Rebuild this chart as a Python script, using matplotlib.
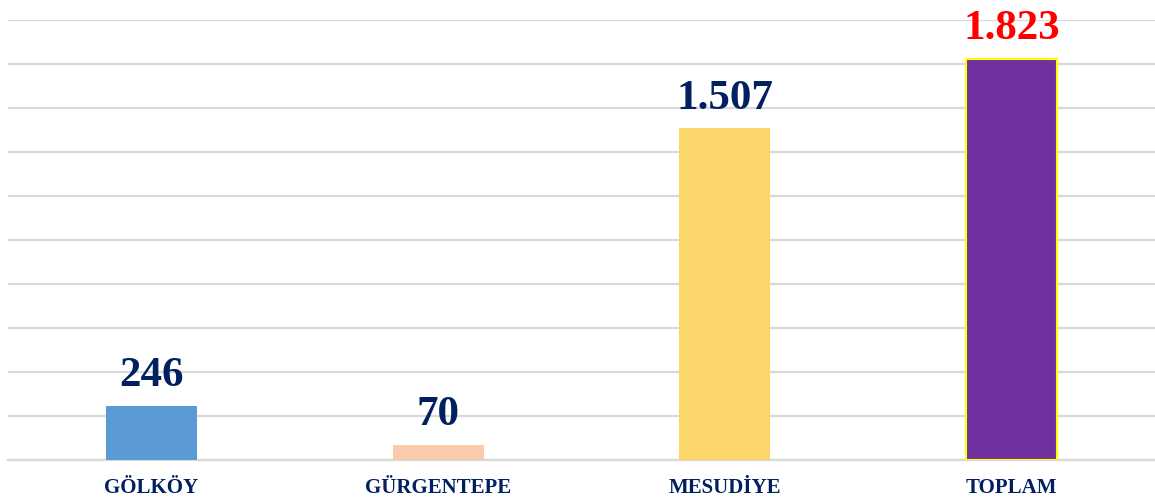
import matplotlib.pyplot as plt
import numpy as np

categories = ['GÖLKÖY', 'GÜRGENTEPE', 'MESUDİYE', 'TOPLAM']
values = [246, 70, 1507, 1823]
value_labels = ['246', '70', '1.507', '1.823']
colors = ['#5B9BD5', '#F8CBAD', '#FCD66A', '#7030A0']

plt.rcParams['font.family'] = ['Liberation Serif', 'DejaVu Serif']

fig = plt.figure(figsize=(11.55, 5.02), dpi=100)
ax = fig.add_axes([8 / 1155, 41 / 502, 1 - 8 / 1155, 440 / 502])

x = np.arange(len(categories))
bars = ax.bar(x, values, width=0.317, color=colors, zorder=3)
# total bar gets a yellow outline
bars[-1].set_edgecolor('#FFFF00')
bars[-1].set_linewidth(1.5)

for i, (v, lab) in enumerate(zip(values, value_labels)):
    c = '#FF0000' if i == len(values) - 1 else '#002060'
    ax.annotate(lab, (x[i], v), xytext=(0, 8.5), textcoords='offset points',
                ha='center', va='bottom', fontsize=31, fontweight='bold', color=c)

ax.set_xlim(-0.5, 3.5)
ax.set_ylim(0, 2000)
ax.set_yticks(np.arange(0, 2001, 200))
ax.yaxis.grid(True, color='#D9D9D9', linewidth=1.6, zorder=0)
ax.tick_params(axis='y', left=False, labelleft=False)
ax.tick_params(axis='x', length=0, pad=12)
ax.set_xticks(x)
ax.set_xticklabels(categories, fontsize=15, fontweight='bold', color='#002060')
for s in ['top', 'right', 'left']:
    ax.spines[s].set_visible(False)
ax.spines['bottom'].set_color('#D9D9D9')
ax.spines['bottom'].set_linewidth(1.6)

fig.savefig('out.png', dpi=100)
